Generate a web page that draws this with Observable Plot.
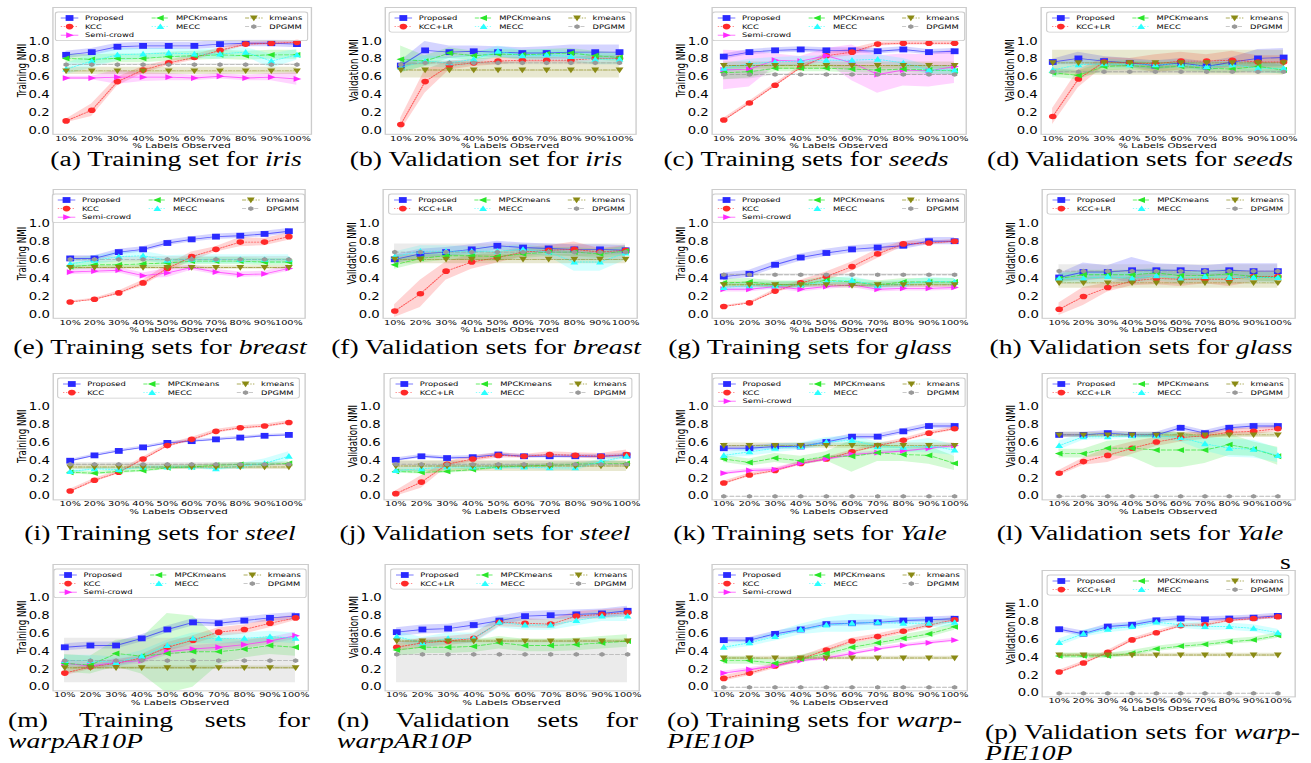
<!DOCTYPE html>
<html><head><meta charset="utf-8">
<script src="https://cdn.jsdelivr.net/npm/d3@7"></script>
<script src="https://cdn.jsdelivr.net/npm/@observablehq/plot@0.6"></script>
<style>
html,body{margin:0;padding:0;background:#fff;}
body{width:1311px;height:763px;position:relative;overflow:hidden;}
.cap{position:absolute;font-family:"Liberation Serif",serif;font-size:20px;line-height:19px;height:19px;color:#000;white-space:nowrap;}
</style></head><body>
<script>
// ---------------- data ----------------
const xLabels = ["10%","20%","30%","40%","50%","60%","70%","80%","90%","100%"];
const yTicks = [0, 0.2, 0.4, 0.6, 0.8, 1.0];
const namesTrain = ["Proposed","KCC","Semi-crowd","MPCKmeans","MECC","kmeans","DPGMM"];
const namesTrainNoSemi = ["Proposed","KCC","MPCKmeans","MECC","kmeans","DPGMM"];
const namesVal = ["Proposed","KCC+LR","MPCKmeans","MECC","kmeans","DPGMM"];

// (a) iris training
const iris_train_mean = [
  [0.85,0.88,0.94,0.95,0.95,0.95,0.97,0.98,0.98,0.97],
  [0.11,0.23,0.55,0.68,0.76,0.82,0.90,0.97,0.98,0.99],
  [0.59,0.59,0.60,0.60,0.60,0.59,0.61,0.59,0.60,0.58],
  [0.81,0.80,0.81,0.81,0.83,0.84,0.85,0.84,0.85,0.85],
  [0.69,0.78,0.85,0.86,0.87,0.86,0.86,0.88,0.78,0.85],
  [0.67,0.67,0.67,0.67,0.67,0.67,0.67,0.67,0.67,0.67],
  [0.74,0.74,0.74,0.74,0.74,0.74,0.74,0.74,0.74,0.74]];
const iris_train_band = [0.04,[0.02,0.07,0.05,0.04,0.03,0.03,0.03,0.02,0.02,0.02],
  [0.02,0.02,0.08,0.05,0.04,0.03,0.03,0.03,0.04,0.07],0.05,
  [0.06,0.08,0.07,0.06,0.05,0.05,0.06,0.05,0.08,0.06],0.04,0.01];
// (b) iris validation
const iris_val_mean = [
  [0.73,0.90,0.88,0.89,0.88,0.87,0.87,0.88,0.88,0.88],
  [0.07,0.55,0.73,0.76,0.78,0.79,0.79,0.79,0.81,0.81],
  [0.80,0.78,0.87,0.84,0.86,0.85,0.86,0.87,0.84,0.82],
  [0.71,0.78,0.76,0.80,0.89,0.84,0.85,0.83,0.80,0.80],
  [0.68,0.68,0.68,0.68,0.68,0.68,0.68,0.68,0.68,0.68],
  [0.74,0.76,0.76,0.76,0.76,0.76,0.76,0.76,0.76,0.76]];
const iris_val_band = [[0.05,0.10,0.07,0.06,0.06,0.06,0.07,0.08,0.08,0.08],
  [0.07,0.13,0.05,0.04,0.04,0.03,0.03,0.03,0.03,0.03],
  [0.15,0.06,0.06,0.05,0.05,0.05,0.05,0.05,0.05,0.05],0.06,0.09,0.02];
// (c) seeds training
const seeds_train_mean = [
  [0.83,0.88,0.90,0.91,0.90,0.90,0.89,0.91,0.88,0.89],
  [0.12,0.31,0.51,0.71,0.84,0.88,0.97,0.98,0.98,0.98],
  [0.68,0.69,0.79,0.78,0.84,0.76,0.63,0.68,0.67,0.72],
  [0.65,0.66,0.70,0.70,0.70,0.69,0.68,0.69,0.68,0.67],
  [0.70,0.75,0.77,0.78,0.79,0.79,0.80,0.76,0.68,0.68],
  [0.73,0.73,0.73,0.73,0.73,0.73,0.73,0.73,0.73,0.73],
  [0.63,0.63,0.63,0.63,0.63,0.63,0.63,0.63,0.63,0.63]];
const seeds_train_band = [0.03,[0.02,0.02,0.02,0.02,0.03,0.04,0.02,0.02,0.02,0.02],
  [0.22,0.20,0.07,0.05,0.08,0.20,0.21,0.18,0.18,0.19],
  [0.08,0.07,0.04,0.04,0.04,0.04,0.04,0.04,0.04,0.04],0.05,0.04,
  [0.06,0.05,0.01,0.01,0.01,0.01,0.01,0.01,0.01,0.01]];
// (d) seeds validation
const seeds_val_mean = [
  [0.77,0.81,0.78,0.76,0.73,0.76,0.72,0.77,0.81,0.82],
  [0.16,0.58,0.77,0.76,0.75,0.78,0.78,0.79,0.77,0.77],
  [0.65,0.62,0.72,0.73,0.71,0.72,0.70,0.69,0.72,0.68],
  [0.68,0.74,0.75,0.74,0.74,0.74,0.72,0.74,0.70,0.70],
  [0.76,0.76,0.76,0.76,0.76,0.76,0.76,0.76,0.76,0.76],
  [0.66,0.66,0.66,0.66,0.66,0.66,0.66,0.66,0.66,0.66]];
const seeds_val_band = [[0.03,0.07,0.05,0.05,0.05,0.05,0.05,0.05,0.10,0.10],
  [0.09,0.10,0.05,0.05,0.10,0.10,0.07,0.10,0.07,0.07],0.05,
  [0.08,0.05,0.05,0.05,0.05,0.05,0.05,0.05,0.06,0.06],0.14,0.02];
// (e) breast training
const breast_train_mean = [
  [0.62,0.62,0.69,0.72,0.79,0.83,0.86,0.87,0.89,0.92],
  [0.14,0.17,0.24,0.35,0.51,0.64,0.72,0.80,0.80,0.86],
  [0.47,0.48,0.49,0.43,0.46,0.52,0.47,0.44,0.45,0.51],
  [0.53,0.55,0.55,0.56,0.57,0.59,0.59,0.59,0.58,0.58],
  [0.56,0.60,0.64,0.65,0.60,0.61,0.61,0.61,0.61,0.61],
  [0.52,0.52,0.52,0.52,0.52,0.52,0.52,0.52,0.52,0.52],
  [0.61,0.61,0.61,0.61,0.61,0.61,0.61,0.61,0.61,0.61]];
const breast_train_band = [0.03,[0.01,0.01,0.02,0.03,0.04,0.05,0.03,0.05,0.04,0.04],
  [0.03,0.03,0.03,0.03,0.05,0.03,0.03,0.03,0.03,0.03],0.04,0.05,0.02,0.03];
// (f) breast validation
const breast_val_mean = [
  [0.61,0.67,0.69,0.72,0.76,0.74,0.73,0.72,0.72,0.71],
  [0.04,0.23,0.48,0.58,0.63,0.69,0.71,0.72,0.69,0.71],
  [0.55,0.62,0.65,0.65,0.64,0.67,0.69,0.69,0.67,0.70],
  [0.64,0.70,0.70,0.70,0.70,0.72,0.69,0.58,0.58,0.68],
  [0.61,0.61,0.61,0.61,0.61,0.61,0.61,0.61,0.61,0.61],
  [0.69,0.69,0.69,0.69,0.69,0.69,0.69,0.69,0.69,0.69]];
const breast_val_band = [0.05,[0.07,0.15,0.10,0.08,0.06,0.05,0.05,0.08,0.04,0.05],0.05,
  [0.05,0.06,0.06,0.05,0.05,0.05,0.05,0.10,0.10,0.08],0.05,0.09];
// (g) glass training
const glass_train_mean = [
  [0.42,0.45,0.55,0.63,0.68,0.72,0.74,0.76,0.81,0.81],
  [0.09,0.13,0.26,0.35,0.42,0.53,0.67,0.78,0.79,0.81],
  [0.28,0.28,0.31,0.28,0.31,0.33,0.28,0.29,0.29,0.30],
  [0.35,0.36,0.33,0.33,0.38,0.36,0.33,0.36,0.36,0.36],
  [0.30,0.32,0.32,0.33,0.36,0.38,0.32,0.34,0.37,0.36],
  [0.33,0.33,0.33,0.33,0.33,0.32,0.33,0.33,0.33,0.33],
  [0.44,0.44,0.44,0.44,0.44,0.44,0.44,0.44,0.44,0.44]];
const glass_train_band = [0.04,[0.01,0.01,0.02,0.03,0.05,0.05,0.05,0.03,0.02,0.02],0.03,0.04,0.04,0.03,0.01];
// (h) glass validation
const glass_val_mean = [
  [0.41,0.47,0.47,0.49,0.49,0.49,0.48,0.49,0.48,0.48],
  [0.06,0.20,0.30,0.37,0.40,0.39,0.39,0.39,0.42,0.42],
  [0.40,0.44,0.44,0.44,0.46,0.43,0.43,0.45,0.42,0.41],
  [0.40,0.40,0.42,0.40,0.43,0.40,0.42,0.41,0.41,0.41],
  [0.35,0.35,0.35,0.35,0.35,0.35,0.35,0.35,0.35,0.35],
  [0.48,0.48,0.48,0.48,0.48,0.48,0.48,0.48,0.48,0.48]];
const glass_val_band = [[0.04,0.10,0.07,0.14,0.07,0.06,0.06,0.07,0.08,0.08],
  [0.07,0.10,0.05,0.05,0.07,0.08,0.05,0.08,0.06,0.06],0.05,0.06,0.06,0.07];
// (i) steel training
const steel_train_mean = [
  [0.40,0.46,0.51,0.55,0.60,0.62,0.64,0.66,0.68,0.69],
  [0.06,0.18,0.27,0.42,0.57,0.64,0.73,0.77,0.79,0.83],
  [0.27,0.26,0.28,0.29,0.32,0.33,0.35,0.36,0.36,0.37],
  [0.28,0.31,0.30,0.33,0.33,0.33,0.31,0.34,0.37,0.45],
  [0.33,0.33,0.33,0.33,0.33,0.33,0.33,0.33,0.33,0.33],
  [0.36,0.36,0.36,0.36,0.36,0.36,0.36,0.36,0.36,0.36]];
const steel_train_band = [0.015,0.02,0.02,[0.02,0.02,0.02,0.02,0.02,0.02,0.02,0.03,0.05,0.05],0.03,0.02];
// (j) steel validation
const steel_val_mean = [
  [0.41,0.45,0.43,0.44,0.47,0.45,0.45,0.45,0.45,0.46],
  [0.03,0.16,0.36,0.42,0.46,0.45,0.47,0.46,0.45,0.47],
  [0.28,0.27,0.28,0.30,0.33,0.34,0.35,0.36,0.37,0.37],
  [0.29,0.31,0.33,0.33,0.33,0.33,0.32,0.32,0.39,0.45],
  [0.34,0.34,0.34,0.34,0.34,0.34,0.34,0.34,0.34,0.34],
  [0.36,0.36,0.36,0.36,0.36,0.36,0.36,0.36,0.36,0.36]];
const steel_val_band = [0.02,[0.03,0.07,0.03,0.03,0.03,0.02,0.03,0.03,0.03,0.05],0.02,0.03,0.06,0.03];
// (k) Yale training
const yale_train_mean = [
  [0.54,0.54,0.56,0.56,0.61,0.67,0.67,0.73,0.79,0.79],
  [0.15,0.24,0.29,0.37,0.42,0.50,0.57,0.63,0.71,0.76],
  [0.26,0.29,0.30,0.37,0.42,0.47,0.49,0.51,0.54,0.57],
  [0.42,0.38,0.43,0.40,0.45,0.45,0.49,0.47,0.46,0.37],
  [0.46,0.50,0.54,0.56,0.61,0.63,0.56,0.55,0.57,0.52],
  [0.57,0.57,0.57,0.57,0.57,0.57,0.57,0.57,0.57,0.57],
  [0.00,0.00,0.00,0.00,0.00,0.00,0.00,0.00,0.00,0.00]];
const yale_train_band = [0.03,0.02,0.02,[0.04,0.04,0.05,0.05,0.05,0.18,0.10,0.08,0.10,0.08],
  [0.03,0.05,0.05,0.04,0.05,0.05,0.05,0.06,0.08,0.06],0.03,0];
// (l) Yale validation
const yale_val_mean = [
  [0.69,0.69,0.71,0.69,0.69,0.77,0.71,0.77,0.79,0.79],
  [0.26,0.39,0.46,0.54,0.61,0.66,0.68,0.72,0.73,0.76],
  [0.48,0.48,0.54,0.54,0.52,0.52,0.52,0.58,0.53,0.45],
  [0.57,0.67,0.67,0.68,0.68,0.66,0.59,0.54,0.53,0.46],
  [0.69,0.69,0.69,0.69,0.69,0.69,0.69,0.69,0.69,0.69],
  [0.00,0.00,0.00,0.00,0.00,0.00,0.00,0.00,0.00,0.00]];
const yale_val_band = [0.03,[0.03,0.04,0.08,0.07,0.05,0.05,0.04,0.04,0.04,0.03],
  [0.05,0.05,0.08,0.10,0.20,0.20,0.15,0.12,0.08,0.10],
  [0.05,0.04,0.03,0.03,0.03,0.05,0.08,0.10,0.10,0.08],0.03,0];
// (m) warpAR10P training
const ar_train_mean = [
  [0.45,0.47,0.47,0.55,0.65,0.73,0.72,0.75,0.78,0.80],
  [0.16,0.23,0.27,0.33,0.45,0.53,0.62,0.65,0.72,0.78],
  [0.27,0.24,0.28,0.30,0.40,0.43,0.45,0.48,0.52,0.58],
  [0.27,0.25,0.38,0.35,0.38,0.40,0.40,0.43,0.47,0.45],
  [0.30,0.30,0.28,0.35,0.47,0.55,0.55,0.55,0.57,0.55],
  [0.22,0.22,0.22,0.22,0.22,0.22,0.22,0.22,0.22,0.22],
  [0.30,0.30,0.30,0.30,0.30,0.30,0.30,0.30,0.30,0.30]];
const ar_train_band = [0.04,[0.03,0.03,0.03,0.04,0.05,0.05,0.05,0.05,0.05,0.03],0.04,
  [0.10,0.10,0.15,0.20,0.45,0.40,0.15,0.10,0.10,0.10],0.06,0.02,[0.05,0.55]];
// (n) warpAR10P validation
const ar_val_mean = [
  [0.62,0.65,0.66,0.70,0.75,0.80,0.81,0.82,0.83,0.86],
  [0.45,0.50,0.52,0.55,0.73,0.72,0.71,0.80,0.82,0.84],
  [0.42,0.45,0.45,0.46,0.50,0.47,0.47,0.48,0.50,0.52],
  [0.57,0.50,0.55,0.55,0.73,0.70,0.70,0.75,0.80,0.80],
  [0.52,0.52,0.52,0.52,0.52,0.52,0.52,0.52,0.52,0.52],
  [0.37,0.37,0.37,0.37,0.37,0.37,0.37,0.37,0.37,0.37]];
const ar_val_band = [0.05,0.05,0.07,0.06,0.02,[0.05,0.52]];
// (o) warpPIE10P training
const pie_train_mean = [
  [0.53,0.53,0.60,0.65,0.71,0.72,0.73,0.75,0.76,0.77],
  [0.10,0.16,0.24,0.32,0.42,0.52,0.57,0.63,0.70,0.76],
  [0.16,0.20,0.24,0.30,0.33,0.38,0.43,0.47,0.50,0.53],
  [0.30,0.30,0.27,0.32,0.38,0.45,0.50,0.55,0.60,0.68],
  [0.45,0.50,0.57,0.65,0.70,0.72,0.73,0.72,0.72,0.73],
  [0.33,0.33,0.33,0.33,0.33,0.33,0.33,0.33,0.33,0.33],
  [0.00,0.00,0.00,0.00,0.00,0.00,0.00,0.00,0.00,0.00]];
const pie_train_band = [0.03,0.03,0.02,0.04,[0.03,0.04,0.05,0.06,0.08,0.10,0.08,0.06,0.05,0.05],0.02,0];
// (p) warpPIE10P validation
const pie_val_mean = [
  [0.72,0.67,0.75,0.77,0.82,0.84,0.83,0.84,0.85,0.87],
  [0.24,0.34,0.46,0.60,0.68,0.76,0.77,0.82,0.84,0.86],
  [0.42,0.42,0.42,0.45,0.50,0.53,0.55,0.58,0.60,0.65],
  [0.57,0.67,0.72,0.75,0.80,0.77,0.75,0.75,0.73,0.68],
  [0.43,0.43,0.43,0.43,0.43,0.43,0.43,0.43,0.43,0.43],
  [0.00,0.00,0.00,0.00,0.00,0.00,0.00,0.00,0.00,0.00]];
const pie_val_band = [0.03,0.02,0.03,0.04,0.02,0];

// ---------------- styles ----------------
const shape = (fn) => ({draw(ctx) { fn(ctx); }});
const symSquare = shape(c => { const h = 2.9; c.moveTo(-h,-h); c.lineTo(h,-h); c.lineTo(h,h); c.lineTo(-h,h); c.closePath(); });
const symCircle = shape(c => { c.moveTo(2.8,0); c.arc(0,0,2.8,0,2*Math.PI); c.closePath(); });
const symUp = shape(c => { c.moveTo(0,-3.2); c.lineTo(2.9,2.5); c.lineTo(-2.9,2.5); c.closePath(); });
const symDown = shape(c => { c.moveTo(0,3.2); c.lineTo(2.9,-2.5); c.lineTo(-2.9,-2.5); c.closePath(); });
const symRight = shape(c => { c.moveTo(3.2,0); c.lineTo(-2.5,-2.9); c.lineTo(-2.5,2.9); c.closePath(); });
const symLeft = shape(c => { c.moveTo(-3.2,0); c.lineTo(2.5,-2.9); c.lineTo(2.5,2.9); c.closePath(); });
const symHex = shape(c => { for (let k = 0; k < 6; k++) { const a = -Math.PI/2 + k*Math.PI/3; const px = 2.3*Math.cos(a), py = 2.3*Math.sin(a); if (k === 0) c.moveTo(px,py); else c.lineTo(px,py); } c.closePath(); });

const styles = {
  "Proposed":   {color:"#2a2aff", dash:null,      sym:symSquare},
  "KCC":        {color:"#ff2a2a", dash:"1,1.2",   sym:symCircle},
  "KCC+LR":     {color:"#ff2a2a", dash:"1,1.2",   sym:symCircle},
  "Semi-crowd": {color:"#ff2aff", dash:null,      sym:symRight},
  "MPCKmeans":  {color:"#2ae62a", dash:"3,1.5",   sym:symLeft},
  "MECC":       {color:"#2affff", dash:"1,1.2",   sym:symUp},
  "kmeans":     {color:"#8a8a14", dash:"3,1,1,1", sym:symDown},
  "DPGMM":      {color:"#999999", dash:"3,1.5",   sym:symHex}
};

const panels = [
  {names:namesTrain, mean:iris_train_mean, band:iris_train_band, yl:"Training NMI", x0:64, x9:299, y0:130, y1:40.7},
  {names:namesVal, mean:iris_val_mean, band:iris_val_band, yl:"Validation NMI", x0:396, x9:624, y0:130, y1:40.7},
  {names:namesTrain, mean:seeds_train_mean, band:seeds_train_band, yl:"Training NMI", x0:723, x9:954, y0:130, y1:40.7},
  {names:namesVal, mean:seeds_val_mean, band:seeds_val_band, yl:"Validation NMI", x0:1052, x9:1283, y0:130, y1:40.7},
  {names:namesTrain, mean:breast_train_mean, band:breast_train_band, yl:"Training NMI", x0:64, x9:293, y0:313.7, y1:223},
  {names:namesVal, mean:breast_val_mean, band:breast_val_band, yl:"Validation NMI", x0:394, x9:625, y0:313.7, y1:223},
  {names:namesTrain, mean:glass_train_mean, band:glass_train_band, yl:"Training NMI", x0:723, x9:954, y0:313.7, y1:223},
  {names:namesVal, mean:glass_val_mean, band:glass_val_band, yl:"Validation NMI", x0:1053, x9:1283, y0:313.7, y1:223},
  {names:namesTrainNoSemi, mean:steel_train_mean, band:steel_train_band, yl:"Training NMI", x0:64, x9:293, y0:495.7, y1:406.7},
  {names:namesVal, mean:steel_val_mean, band:steel_val_band, yl:"Validation NMI", x0:395, x9:627, y0:495.7, y1:406.7},
  {names:namesTrain, mean:yale_train_mean, band:yale_train_band, yl:"Training NMI", x0:723, x9:955, y0:495.7, y1:406.7},
  {names:namesVal, mean:yale_val_mean, band:yale_val_band, yl:"Validation NMI", x0:1053, x9:1283, y0:495.7, y1:406.7},
  {names:namesTrain, mean:ar_train_mean, band:ar_train_band, yl:"Training NMI", x0:64, x9:296, y0:687, y1:598},
  {names:namesVal, mean:ar_val_mean, band:ar_val_band, yl:"Validation NMI", x0:396, x9:627, y0:687, y1:598},
  {names:namesTrain, mean:pie_train_mean, band:pie_train_band, yl:"Training NMI", x0:723, x9:955, y0:687, y1:598},
  {names:namesVal, mean:pie_val_mean, band:pie_val_band, yl:"Validation NMI", x0:1053, x9:1283, y0:693, y1:604}
];

// captions: [html, centerX, centerY]
const captions = [
  ["(a) Training set for <i>iris</i>", 176, 159.5],
  ["(b) Validation set for <i>iris</i>", 486, 159.5],
  ["(c) Training sets for <i>seeds</i>", 806, 159.5],
  ["(d) Validation sets for <i>seeds</i>", 1140, 159.5],
  ["(e) Training sets for <i>breast</i>", 160, 347],
  ["(f) Validation sets for <i>breast</i>", 486, 347],
  ["(g) Training sets for <i>glass</i>", 810, 347],
  ["(h) Validation sets for <i>glass</i>", 1141, 347],
  ["(i) Training sets for <i>steel</i>", 160, 533],
  ["(j) Validation sets for <i>steel</i>", 485, 533],
  ["(k) Training sets for <i>Yale</i>", 810, 533],
  ["(l) Validation sets for <i>Yale</i>", 1140, 533]
];
// justified two-line captions: [line1, line2, left, right, y1, y2]
const captions2 = [
  ["(m) Training sets for", "<i>warpAR10P</i>", 8, 310, 720, 741],
  ["(n) Validation sets for", "<i>warpAR10P</i>", 337, 638, 720, 741],
  ["(o) Training sets for <i>warp-</i>", "<i>PIE10P</i>", 667, 962, 720, 741],
  ["(p) Validation sets for <i>warp-</i>", "<i>PIE10P</i>", 985, 1300, 732, 753]
];

// ---------------- drawing ----------------
const S = 1.35;          // horizontal stretch of the reference image
const YDOM = [-0.04, 1.38];
const canvas = document.createElement("canvas");
const cctx = canvas.getContext("2d");
function textW(t, fs) { cctx.font = `${fs}px "DejaVu Sans"`; return cctx.measureText(t).width; }

function bandOf(b, j, m) {
  if (Array.isArray(b) && b.length === 2) return [b[0], b[1]];
  const h = Array.isArray(b) ? b[j] : b;
  return [m - h, m + h];
}

function drawPanel(p) {
  const step = (p.x9 - p.x0) / 9;
  const fl = p.x0 - 0.45 * step, fr = p.x9 + 0.45 * step;
  const L = Math.max(0, p.x0 - 62), R = Math.min(1311, p.x9 + 24);
  const pu = (p.y0 - p.y1);
  const ft = p.y1 - (YDOM[1] - 1) * pu, fb = p.y0 - YDOM[0] * pu;
  const T = ft - 2, H = Math.round(fb - T + 17);
  const Wl = (R - L) / S;
  const ml = (fl - L) / S, mr = (R - fr) / S;
  const mt = ft - T, mb = T + H - fb;

  const bands = [], lines = [], dots = [];
  p.names.forEach((name, i) => {
    const st = styles[name];
    const rows = xLabels.map((x, j) => {
      const m = p.mean[i][j];
      const [lo, hi] = bandOf(p.band[i], j, m);
      return {x, y: m, lo, hi};
    });
    bands.push(Plot.areaY(rows, {x: "x", y1: "lo", y2: "hi", fill: st.color, fillOpacity: 0.2}));
    lines.push(Plot.line(rows, {x: "x", y: "y", stroke: st.color, strokeWidth: 0.9, strokeOpacity: 0.7,
      strokeDasharray: st.dash || undefined}));
    dots.push(Plot.dot(rows, {x: "x", y: "y", symbol: st.sym, r: 3, fill: st.color, stroke: "none"}));
  });
  const marks = [];
  p.names.forEach((n, i) => { marks.push(bands[i]); });
  p.names.forEach((n, i) => { marks.push(lines[i], dots[i]); });

  const svg = Plot.plot({
    width: Wl, height: H,
    marginLeft: ml, marginRight: mr, marginTop: mt, marginBottom: mb,
    style: {fontFamily: "DejaVu Sans", fontSize: "10px", color: "#000", background: "transparent", overflow: "visible"},
    x: {type: "point", domain: xLabels, padding: 0.45},
    y: {domain: YDOM},
    marks: [
      ...marks,
      Plot.axisX({tickSize: 0, tickPadding: 1.5, fontSize: 7.2, label: null}),
      Plot.axisY({ticks: yTicks, tickFormat: d3.format(".1f"), tickSize: 0, tickPadding: 2.5, fontSize: 9.8, label: null}),
      Plot.frame({stroke: "#cccccc", strokeWidth: 1})
    ]
  });
  svg.setAttribute("preserveAspectRatio", "none");
  svg.setAttribute("viewBox", `0 0 ${Wl} ${H}`);
  svg.style.cssText = `position:absolute;left:${L}px;top:${T}px;width:${R - L}px;height:${H}px;max-width:none;overflow:visible;background:transparent;font-family:'DejaVu Sans';`;
  document.body.appendChild(svg);

  const g = d3.select(svg).append("g").attr("text-anchor", "start");
  const ftl = mt, fbl = H - mb, fll = ml, frl = Wl - mr;
  // y label
  g.append("text").attr("transform", `translate(${(p.x0 - 43 - L) / S},${(ftl + fbl) / 2}) rotate(-90)`)
    .attr("text-anchor", "middle").attr("dominant-baseline", "central")
    .attr("font-size", 8.7).attr("fill", "#000").text(p.yl);
  // x label
  g.append("text").attr("x", (fll + frl) / 2).attr("y", fbl + 11.8)
    .attr("text-anchor", "middle").attr("dominant-baseline", "central")
    .attr("font-size", 7.6).attr("fill", "#000").text("% Labels Observed");

  // legend (matplotlib style, 3 columns, column-major)
  const fs = 6.2, hl = 13, hp = 5, cs = 13, pad = 4, rowH = 8.6, ncol = 3;
  const n = p.names.length;
  const nr = Math.floor(n / ncol), big = n % ncol;
  const cols = []; let k = 0;
  for (let c = 0; c < ncol; c++) { const cnt = nr + (c < big ? 1 : 0); cols.push(p.names.slice(k, k + cnt)); k += cnt; }
  const nrow = Math.max(...cols.map(c => c.length));
  const colW = cols.map(c => hl + hp + Math.max(...c.map(t => textW(t, fs))));
  const LW = pad * 2 + colW.reduce((a, b) => a + b, 0) + cs * (ncol - 1);
  const lx = (fll + frl) / 2 - LW / 2, ly = ftl + 5;
  const LH = 6 + (nrow - 1) * rowH + 5.5;
  g.append("rect").attr("x", lx).attr("y", ly).attr("width", LW).attr("height", LH)
    .attr("rx", 2).attr("fill", "#fff").attr("fill-opacity", 0.8).attr("stroke", "#cccccc").attr("stroke-width", 0.8);
  let cx = lx + pad;
  cols.forEach((c, ci) => {
    c.forEach((name, ri) => {
      const st = styles[name];
      const yy = ly + 6 + ri * rowH;
      g.append("line").attr("x1", cx).attr("x2", cx + hl).attr("y1", yy).attr("y2", yy)
        .attr("stroke", st.color).attr("stroke-width", 0.9).attr("stroke-opacity", 0.7)
        .attr("stroke-dasharray", st.dash || null);
      const pth = d3.path(); st.sym.draw(pth);
      g.append("path").attr("d", pth.toString()).attr("transform", `translate(${cx + hl / 2},${yy})`).attr("fill", st.color);
      g.append("text").attr("x", cx + hl + hp).attr("y", yy).attr("dominant-baseline", "central")
        .attr("text-anchor", "start").attr("font-size", fs).attr("fill", "#000").text(name);
    });
    cx += colW[ci] + cs;
  });
}

panels.forEach(drawPanel);

const CS = 1.38;
captions.forEach(([html, cx, cy]) => {
  const d = document.createElement("div");
  d.className = "cap"; d.innerHTML = html;
  d.style.left = cx + "px"; d.style.top = (cy - 9.5) + "px";
  d.style.transform = `translateX(-50%) scaleX(${CS})`;
  document.body.appendChild(d);
});
captions2.forEach(([l1, l2, x0, x1, y1, y2]) => {
  const a = document.createElement("div");
  a.className = "cap"; a.innerHTML = l1;
  a.style.left = x0 + "px"; a.style.top = (y1 - 9.5) + "px";
  a.style.width = ((x1 - x0) / CS) + "px";
  a.style.textAlign = "justify"; a.style.textAlignLast = "justify"; a.style.whiteSpace = "normal";
  a.style.transformOrigin = "0 0"; a.style.transform = `scaleX(${CS})`;
  document.body.appendChild(a);
  const b = document.createElement("div");
  b.className = "cap"; b.innerHTML = l2;
  b.style.left = x0 + "px"; b.style.top = (y2 - 9.5) + "px";
  b.style.transformOrigin = "0 0"; b.style.transform = `scaleX(${CS})`;
  document.body.appendChild(b);
});
// stray line-break fragment under caption (l)
const s = document.createElement("div");
s.className = "cap"; s.textContent = "s";
s.style.left = "1280px"; s.style.top = (562 - 9.5) + "px";
s.style.transformOrigin = "0 0"; s.style.transform = `scaleX(${CS})`;
document.body.appendChild(s);
</script>
</body></html>
